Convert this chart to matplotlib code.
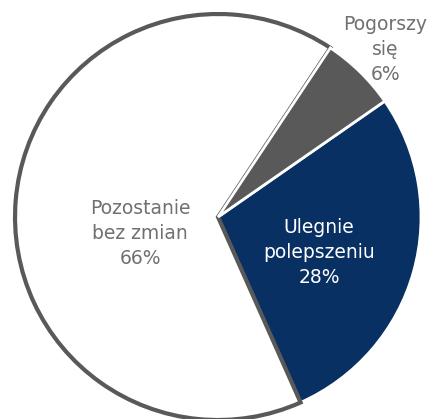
import matplotlib.pyplot as plt

# data
labels = ['Pogorszy\nsię', 'Ulegnie\npolepszeniu', 'Pozostanie\nbez zmian']
values = [6, 28, 66]
colors = ['#595959', '#083063', '#ffffff']
edge_colors = ['#ffffff', '#ffffff', '#595959']
text_colors = ['#707070', '#ffffff', '#707070']
label_pos = [(0.823, 0.823), (0.498, -0.177), (-0.384, -0.079)]

fig = plt.figure(figsize=(4.33, 4.19), dpi=100)
ax = fig.add_axes([0, 0, 1, 1])

wedges, _ = ax.pie(values, colors=colors, startangle=56.4, counterclock=False,
                   radius=1, center=(0, 0), frame=True)

zorders = [3, 1, 2]
widths = [2, 2, 3]
for w, ec, z, lw in zip(wedges, edge_colors, zorders, widths):
    w.set_edgecolor(ec)
    w.set_linewidth(lw)
    w.set_zorder(z)

for lab, v, (x, y), tc in zip(labels, values, label_pos, text_colors):
    ax.text(x, y, f"{lab}\n{v}%", ha='center', va='center', color=tc,
            fontsize=13.5, linespacing=1.4, zorder=5, family='DejaVu Sans')

ax.set_xlim(-1.074, 1.059)
ax.set_ylim(-0.995, 1.069)
ax.set_aspect('auto')
ax.axis('off')

fig.savefig('out.png', dpi=100)
